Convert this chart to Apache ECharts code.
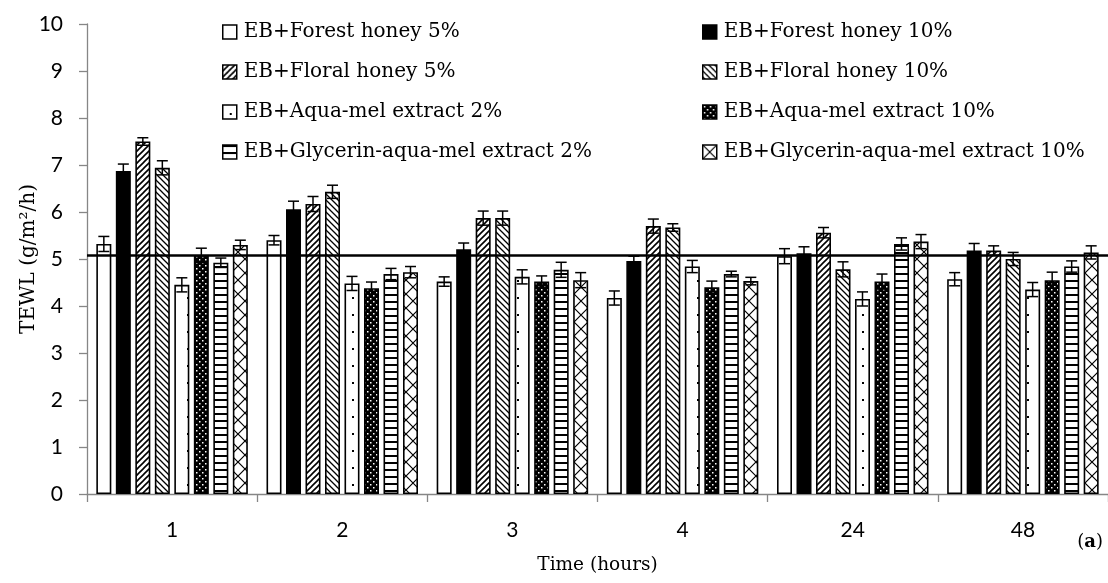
<!DOCTYPE html>
<html>
<head>
<meta charset="utf-8">
<script src="https://cdn.jsdelivr.net/npm/echarts@6/dist/echarts.min.js"></script>
<style>html,body{margin:0;padding:0;background:#fff;}#c{width:1108px;height:583px;}</style>
</head>
<body>
<div id="c"></div>
<script>
// ---- data ----
const categories = ['1', '2', '3', '4', '24', '48'];
const seriesNames = [
  'EB+Forest honey 5%', 'EB+Forest honey 10%',
  'EB+Floral honey 5%', 'EB+Floral honey 10%',
  'EB+Aqua-mel extract 2%', 'EB+Aqua-mel extract 10%',
  'EB+Glycerin-aqua-mel extract 2%', 'EB+Glycerin-aqua-mel extract 10%'
];
const forestHoney5 = [5.32, 5.40, 4.52, 4.17, 5.06, 4.57];
const forestHoney10 = [6.87, 6.06, 5.21, 4.96, 5.12, 5.18];
const floralHoney5 = [7.50, 6.17, 5.87, 5.70, 5.56, 5.18];
const floralHoney10 = [6.94, 6.43, 5.87, 5.67, 4.78, 5.00];
const aquaMel2 = [4.45, 4.48, 4.62, 4.84, 4.15, 4.35];
const aquaMel10 = [5.08, 4.38, 4.52, 4.40, 4.52, 4.55];
const glycAquaMel2 = [4.92, 4.68, 4.77, 4.68, 5.32, 4.84];
const glycAquaMel10 = [5.30, 4.72, 4.55, 4.53, 5.37, 5.14];

const errForestHoney5 = [0.16, 0.10, 0.10, 0.15, 0.16, 0.14];
const errForestHoney10 = [0.15, 0.17, 0.13, 0.10, 0.14, 0.15];
const errFloralHoney5 = [0.08, 0.16, 0.15, 0.15, 0.11, 0.10];
const errFloralHoney10 = [0.15, 0.14, 0.15, 0.08, 0.16, 0.14];
const errAquaMel2 = [0.15, 0.15, 0.15, 0.13, 0.15, 0.15];
const errAquaMel10 = [0.15, 0.13, 0.12, 0.13, 0.16, 0.17];
const errGlycAquaMel2 = [0.10, 0.12, 0.16, 0.06, 0.13, 0.12];
const errGlycAquaMel10 = [0.10, 0.12, 0.16, 0.08, 0.15, 0.14];

const referenceValue = 5.08;
const yTicks = [0, 1, 2, 3, 4, 5, 6, 7, 8, 9, 10];

const values = [forestHoney5, forestHoney10, floralHoney5, floralHoney10, aquaMel2, aquaMel10, glycAquaMel2, glycAquaMel10];
const errors = [errForestHoney5, errForestHoney10, errFloralHoney5, errFloralHoney10, errAquaMel2, errAquaMel10, errGlycAquaMel2, errGlycAquaMel10];

// ---- patterns ----
function tile(w, h, draw) {
  const c = document.createElement('canvas');
  c.width = w; c.height = h;
  const ctx = c.getContext('2d');
  draw(ctx, w, h);
  return { image: c, repeat: 'repeat' };
}
const patterns = [
  '#ffffff',
  '#000000',
  tile(6, 6, (ctx, w, h) => { ctx.fillStyle = '#fff'; ctx.fillRect(0,0,w,h); ctx.strokeStyle = '#000'; ctx.lineWidth = 1.6;
    ctx.beginPath(); ctx.moveTo(-1, h+1); ctx.lineTo(w+1, -1); ctx.moveTo(-1, 1); ctx.lineTo(1, -1); ctx.moveTo(w-1, h+1); ctx.lineTo(w+1, h-1); ctx.stroke(); }),
  tile(6, 6, (ctx, w, h) => { ctx.fillStyle = '#fff'; ctx.fillRect(0,0,w,h); ctx.strokeStyle = '#000'; ctx.lineWidth = 1.3;
    ctx.beginPath(); ctx.moveTo(-1, -1); ctx.lineTo(w+1, h+1); ctx.moveTo(w-1, -1); ctx.lineTo(w+1, 1); ctx.moveTo(-1, h-1); ctx.lineTo(1, h+1); ctx.stroke(); }),
  tile(15, 17, (ctx, w, h) => { ctx.fillStyle = '#fff'; ctx.fillRect(0,0,w,h); ctx.fillStyle = '#000'; ctx.fillRect(7, 8, 2, 2); }),
  tile(6, 6, (ctx, w, h) => { ctx.fillStyle = '#000'; ctx.fillRect(0,0,w,h); ctx.fillStyle = '#fff'; ctx.fillRect(1, 1, 1.5, 1.5); ctx.fillRect(4, 4, 1.5, 1.5); }),
  tile(4, 7, (ctx, w, h) => { ctx.fillStyle = '#fff'; ctx.fillRect(0,0,w,h); ctx.fillStyle = '#000'; ctx.fillRect(0, 0, w, 2); }),
  tile(14, 14, (ctx, w, h) => { ctx.fillStyle = '#fff'; ctx.fillRect(0,0,w,h); ctx.strokeStyle = '#000'; ctx.lineWidth = 1.2;
    ctx.beginPath(); ctx.moveTo(0, 0); ctx.lineTo(w, h); ctx.moveTo(w, 0); ctx.lineTo(0, h); ctx.stroke(); })
];

const BAR_W = 15, BAR_GAP_PX = 4.5;
const N = values.length;

const series = values.map((v, i) => ({
  name: seriesNames[i],
  type: 'bar',
  data: v,
  barWidth: BAR_W,
  barGap: (BAR_GAP_PX / BAR_W * 100) + '%',
  itemStyle: { color: patterns[i], borderColor: '#000', borderWidth: 1.6 },
  emphasis: { disabled: true },
  animation: false,
  z: 2
}));

const errData = [];
values.forEach((v, s) => v.forEach((val, c) => errData.push([c, s, val, errors[s][c]])));

series.push({
  type: 'custom',
  name: 'err',
  animation: false,
  silent: true,
  z: 4,
  encode: { x: 0, y: 2 },
  data: errData,
  renderItem: function (params, api) {
    const c = api.value(0), s = api.value(1), val = api.value(2), e = api.value(3);
    const total = N * BAR_W + (N - 1) * BAR_GAP_PX;
    const off = -total / 2 + s * (BAR_W + BAR_GAP_PX) + BAR_W / 2;
    const top = api.coord([c, val + e]);
    const bot = api.coord([c, val - e]);
    const x = top[0] + off;
    const hw = 5.5;
    const style = { stroke: '#000', lineWidth: 1.5 };
    return {
      type: 'group',
      children: [
        { type: 'line', shape: { x1: x, y1: top[1], x2: x, y2: bot[1] }, style },
        { type: 'line', shape: { x1: x - hw, y1: top[1], x2: x + hw, y2: top[1] }, style },
        { type: 'line', shape: { x1: x - hw, y1: bot[1], x2: x + hw, y2: bot[1] }, style }
      ]
    };
  },
  markLine: {
    silent: true,
    symbol: 'none',
    animation: false,
    label: { show: false },
    lineStyle: { color: '#000', width: 2.5, type: 'solid' },
    data: [{ yAxis: referenceValue }]
  }
});

const serifFont = 'DejaVu Serif';
const legendCommon = {
  orient: 'vertical',
  top: 16,
  itemWidth: 14,
  itemHeight: 14,
  itemGap: 18,
  icon: 'rect',
  selectedMode: false,
  itemStyle: { borderColor: '#000', borderWidth: 1.5 },
  textStyle: { fontFamily: serifFont, fontSize: 20, color: '#000', lineHeight: 22, padding: [0, 0, 0, 2] }
};

const chart = echarts.init(document.getElementById('c'), null, { renderer: 'canvas' });
chart.setOption({
  backgroundColor: '#fff',
  animation: false,
  grid: { left: 87, top: 24, width: 1031, bottom: 89, containLabel: false },
  legend: [
    Object.assign({}, legendCommon, { left: 217, data: [seriesNames[0], seriesNames[2], seriesNames[4], seriesNames[6]] }),
    Object.assign({}, legendCommon, { left: 697, data: [seriesNames[1], seriesNames[3], seriesNames[5], seriesNames[7]] })
  ],
  title: {
    text: '({a|a})',
    right: 0,
    top: 528,
    textStyle: { fontFamily: serifFont, fontSize: 18, fontWeight: 'normal', color: '#000',
      rich: { a: { fontFamily: serifFont, fontSize: 18, fontWeight: 'bold', color: '#000' } } }
  },
  xAxis: {
    type: 'category',
    data: categories,
    boundaryGap: true,
    name: 'Time (hours)',
    nameLocation: 'middle',
    nameGap: 62,
    nameMoveOverlap: false,
    nameTextStyle: { fontFamily: serifFont, fontSize: 18.5, color: '#000' },
    axisLine: { lineStyle: { color: '#868686', width: 1.3 } },
    axisTick: { show: true, length: 8, alignWithLabel: false, lineStyle: { color: '#868686', width: 1.3 } },
    axisLabel: { margin: 26, fontFamily: 'Lato', fontSize: 21, color: '#000' },
    splitLine: { show: false }
  },
  yAxis: {
    type: 'value',
    min: yTicks[0],
    max: yTicks[yTicks.length - 1],
    interval: 1,
    name: 'TEWL (g/m²/h)',
    nameLocation: 'middle',
    nameGap: 48,
    nameMoveOverlap: false,
    nameTextStyle: { fontFamily: serifFont, fontSize: 20, color: '#000' },
    axisLine: { show: true, lineStyle: { color: '#868686', width: 1.3 } },
    axisTick: { show: true, length: 8, lineStyle: { color: '#868686', width: 1.3 } },
    axisLabel: { margin: 24, fontFamily: 'Lato', fontSize: 21, color: '#000' },
    splitLine: { show: false }
  },
  series: series
});
</script>
</body>
</html>
